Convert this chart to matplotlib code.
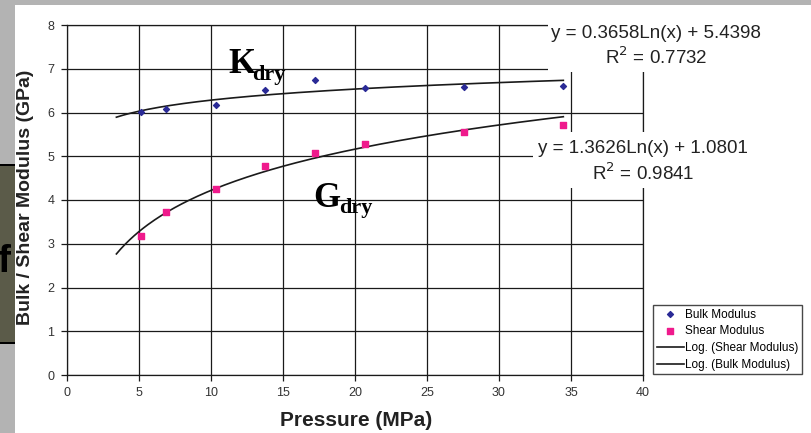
import numpy as np
import matplotlib
matplotlib.use("Agg")
import matplotlib.pyplot as plt
from matplotlib.patches import Rectangle

plt.rcParams['font.family'] = ['Liberation Sans', 'DejaVu Sans']

# pressure steps (MPa) and measured dry moduli (GPa)
pressure = [5.17, 6.89, 10.34, 13.79, 17.24, 20.68, 27.58, 34.47]
bulk = [6.01, 6.08, 6.17, 6.52, 6.74, 6.57, 6.59, 6.60]
shear = [3.18, 3.72, 4.26, 4.77, 5.08, 5.29, 5.55, 5.72]

# log trend lines as printed on the chart: y = a*ln(x) + b
bulk_fit = [0.3658, 5.4398]
shear_fit = [1.3626, 1.0801]
bulk_r2 = 0.7732
shear_r2 = 0.9841
trend_start = 3.45

W, H = 812, 433
fig = plt.figure(figsize=(W / 100, H / 100), dpi=100)
fig.patch.set_facecolor('white')


def fx(px):
    return px / W


def fy(py):
    return 1 - py / H


# gray slide border and the clipped neighbouring panel on the left
fig.add_artist(Rectangle((0, 0), fx(15), 1, transform=fig.transFigure,
                         facecolor='#b3b3b3', edgecolor='none', zorder=-5))
fig.add_artist(Rectangle((0, fy(5)), 1, 5 / H, transform=fig.transFigure,
                         facecolor='#b3b3b3', edgecolor='none', zorder=-5))
strip = Rectangle((0, fy(343)), fx(15), (343 - 165) / H, transform=fig.transFigure,
                  facecolor='#5b5b49', edgecolor='none', zorder=-4)
fig.add_artist(strip)
for yy in (165, 343):
    fig.add_artist(Rectangle((0, fy(yy + 1)), fx(15), 2 / H, transform=fig.transFigure,
                             facecolor='black', edgecolor='none', zorder=-3))
t = fig.text(fx(-3), fy(272), "f", fontsize=28, color='black', fontweight='bold', zorder=-2)
t.set_clip_path(strip)

ax = fig.add_axes([fx(66.7), fy(375), fx(643 - 66.7), (375 - 25) / H])
ax.set_xlim(0, 40)
ax.set_ylim(0, 8)
ax.set_xticks(np.arange(0, 41, 5))
ax.set_yticks(np.arange(0, 9, 1))
ax.grid(True, color='#1a1a1a', linewidth=0.9)
ax.set_axisbelow(True)
for sp in ax.spines.values():
    sp.set_color('#1a1a1a')
    sp.set_linewidth(0.9)
ax.tick_params(direction='out', length=4, width=0.9, color='#1a1a1a',
               labelsize=9, labelcolor='#333333', pad=5)

x_fit = np.linspace(trend_start, max(pressure), 200)
ax.scatter(pressure, bulk, marker='D', s=9, color='#2a2a96', zorder=4,
           label='Bulk Modulus')
ax.scatter(pressure, shear, marker='s', s=22, color='#ef1a8c', zorder=4,
           label='Shear Modulus')
ax.plot(x_fit, shear_fit[0] * np.log(x_fit) + shear_fit[1], color='#1a1a1a',
        lw=1.2, zorder=3, label='Log. (Shear Modulus)')
ax.plot(x_fit, bulk_fit[0] * np.log(x_fit) + bulk_fit[1], color='#1a1a1a',
        lw=1.2, zorder=3, label='Log. (Bulk Modulus)')

fig.text(fx(356), fy(421), 'Pressure (MPa)', fontsize=15, fontweight='bold',
         color='#222222', ha='center', va='center')
fig.text(fx(26), fy(197), 'Bulk / Shear Modulus (GPa)', fontsize=14, fontweight='bold',
         color='#222222', ha='center', va='center', rotation=90)

# curve labels
serif = 'Liberation Serif'
ax.text(11.2, 6.90, 'K', fontsize=25, fontweight='bold', family=serif, va='baseline', zorder=5)
ax.text(12.9, 6.74, 'dry', fontsize=16, fontweight='bold', family=serif, va='baseline', zorder=5)
ax.text(17.1, 3.84, 'G', fontsize=25, fontweight='bold', family=serif, va='baseline', zorder=5)
ax.text(18.9, 3.70, 'dry', fontsize=16, fontweight='bold', family=serif, va='baseline', zorder=5)

# trend line equations on white boxes covering the grid
fig.add_artist(Rectangle((fx(548), fy(72)), fx(764 - 548), (72 - 8) / H,
                         transform=fig.transFigure, facecolor='white',
                         edgecolor='none', zorder=5))
fig.add_artist(Rectangle((fx(533), fy(188)), fx(753 - 533), (188 - 132) / H,
                         transform=fig.transFigure, facecolor='white',
                         edgecolor='none', zorder=5))
eq_kw = dict(fontsize=13.5, color='#222222', ha='center', va='center', zorder=6)
fig.text(fx(656), fy(33), f'y = {bulk_fit[0]:.4f}Ln(x) + {bulk_fit[1]:.4f}', **eq_kw)
fig.text(fx(656), fy(57), f'R$^2$ = {bulk_r2:.4f}', **eq_kw)
fig.text(fx(643), fy(149), f'y = {shear_fit[0]:.4f}Ln(x) + {shear_fit[1]:.4f}', **eq_kw)
fig.text(fx(643), fy(173), f'R$^2$ = {shear_r2:.4f}', **eq_kw)

leg = ax.legend(loc='upper left', bbox_to_anchor=(fx(653), fy(305)),
                bbox_transform=fig.transFigure, fontsize=8.5, frameon=True,
                fancybox=False, edgecolor='#1a1a1a', borderpad=0.3,
                handlelength=2.3, handletextpad=0.1, labelspacing=0.4,
                borderaxespad=0, scatterpoints=1)
leg.get_frame().set_linewidth(1.0)

fig.savefig('out.png', dpi=100)
